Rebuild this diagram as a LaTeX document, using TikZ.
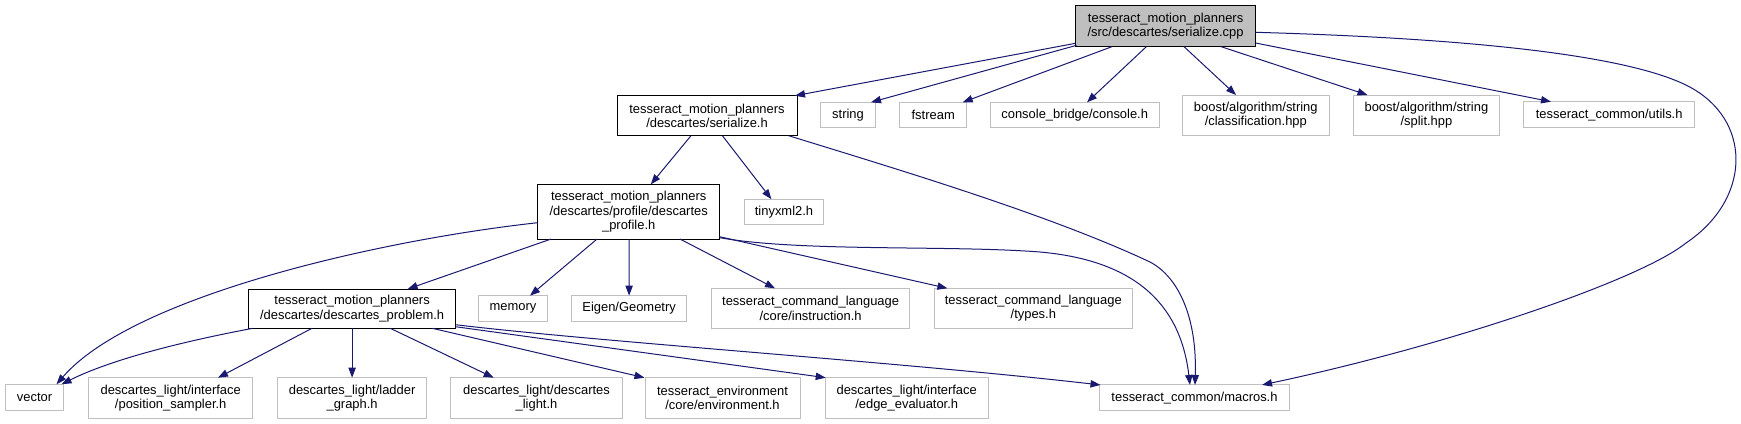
\documentclass[tikz,border=0pt]{standalone}
\usepackage{fontspec}
\setmainfont{Liberation Sans}
\usetikzlibrary{calc,arrows.meta}
\definecolor{edgeblue}{HTML}{191970}
\definecolor{extgray}{HTML}{BFBFBF}
\definecolor{rootgray}{HTML}{BFBFBF}
\tikzset{
  basebox/.style={rectangle, align=center, inner sep=0pt, font=\fontsize{9.7}{10.7}\selectfont, line width=0.7pt},
  localbox/.style={basebox, draw=black},
  extbox/.style={basebox, draw=extgray},
  rootbox/.style={basebox, draw=black, fill=rootgray},
  dep/.style={draw=edgeblue, line width=0.75pt, -{Triangle[length=7.5pt,width=5.5pt]}}
}
\begin{document}
\begin{tikzpicture}[x=0.75pt,y=-0.75pt]
\useasboundingbox (0,0) rectangle (1741,424);
% nodes
\node[rootbox, minimum width=135pt, minimum height=30.5pt] (root) at (1165.6,26.3) {tesseract\_motion\_planners\\/src/descartes/serialize.cpp};
\node[localbox, minimum width=135pt, minimum height=30pt] (ser) at (707,115.7) {tesseract\_motion\_planners\\/descartes/serialize.h};
\node[extbox, minimum width=41.6pt, minimum height=19pt] (str) at (848,115) {string};
\node[extbox, minimum width=49.9pt, minimum height=19pt] (fst) at (933.2,115) {fstream};
\node[extbox, minimum width=126.7pt, minimum height=19pt] (con) at (1074.7,115) {console\_bridge/console.h};
\node[extbox, minimum width=110.3pt, minimum height=30pt] (cls) at (1255.8,115) {boost/algorithm/string\\/classification.hpp};
\node[extbox, minimum width=110pt, minimum height=30pt] (spl) at (1426.4,115) {boost/algorithm/string\\/split.hpp};
\node[extbox, minimum width=128.2pt, minimum height=19.5pt] (utl) at (1609.2,114.7) {tesseract\_common/utils.h};
\node[localbox, minimum width=136.5pt, minimum height=41pt] (prof) at (628.7,211.7) {tesseract\_motion\_planners\\/descartes/profile/descartes\\\_profile.h};
\node[extbox, minimum width=59.3pt, minimum height=18.8pt] (tiny) at (784,211.7) {tinyxml2.h};
\node[localbox, minimum width=155pt, minimum height=29.5pt] (prob) at (352.1,308.7) {tesseract\_motion\_planners\\/descartes/descartes\_problem.h};
\node[extbox, minimum width=51.4pt, minimum height=19pt] (mem) at (513,308.3) {memory};
\node[extbox, minimum width=86pt, minimum height=19pt] (eig) at (629.1,308.3) {Eigen/Geometry};
\node[extbox, minimum width=149pt, minimum height=30pt] (ins) at (810.6,308.3) {tesseract\_command\_language\\/core/instruction.h};
\node[extbox, minimum width=149pt, minimum height=30pt] (typ) at (1033.3,308.3) {tesseract\_command\_language\\/types.h};
\node[extbox, minimum width=43.5pt, minimum height=19.8pt] (vec) at (34.5,397.5) {vector};
\node[extbox, minimum width=122.9pt, minimum height=30.5pt] (pos) at (170.7,398) {descartes\_light/interface\\/position\_sampler.h};
\node[extbox, minimum width=112pt, minimum height=30.5pt] (lad) at (352.1,398) {descartes\_light/ladder\\\_graph.h};
\node[extbox, minimum width=128.5pt, minimum height=30.5pt] (dli) at (536.5,398) {descartes\_light/descartes\\\_light.h};
\node[extbox, minimum width=116.3pt, minimum height=30.5pt] (env) at (722.5,398) {tesseract\_environment\\/core/environment.h};
\node[extbox, minimum width=122.5pt, minimum height=30.5pt] (edg) at (906.7,398) {descartes\_light/interface\\/edge\_evaluator.h};
\node[extbox, minimum width=142.8pt, minimum height=19.3pt] (mac) at (1194.5,397.8) {tesseract\_common/macros.h};
% root edges
\draw[dep] ($(root.center)+(-90,17)$) -- ($(ser.center)+(88,-20)$);
\draw[dep] ($(root.center)+(-89,19)$) -- ($(str.center)+(23,-12.7)$);
\draw[dep] ($(root.center)+(-53.6,20.35)$) -- ($(fst.center)+(29.5,-12.7)$);
\draw[dep] ($(root.center)+(-19.2,20.35)$) -- ($(con.center)+(12.3,-12.7)$);
\draw[dep] ($(root.center)+(18.4,20.35)$) -- ($(cls.center)+(-19.8,-20)$);
\draw[dep] ($(root.center)+(55.4,20.35)$) -- ($(spl.center)+(-58.9,-20)$);
\draw[dep] ($(root.center)+(90,16.7)$) -- ($(utl.center)+(-58.2,-13)$);
\draw[dep] ($(root.center)+(90,6)$) .. controls (1420,37) and (1630,50) .. (1695,90)
  .. controls (1752,125) and (1750,200) .. (1686,243)
  .. controls (1640,280) and (1450,345) .. ($(mac.center)+(67.5,-12.85)$);
% serialize.h edges
\draw[dep] ($(ser.center)+(-16,20)$) -- ($(prof.center)+(22.1,-27.35)$);
\draw[dep] ($(ser.center)+(15.4,20)$) -- ($(tiny.center)+(-12.6,-12.5)$);
\draw[dep] ($(ser.center)+(81.6,20)$) .. controls (900,170) and (1050,215) .. (1150,262)
  .. controls (1180,278) and (1197,320) .. ($(mac.center)+(0.5,-12.85)$);
% profile edges
\draw[dep] ($(prof.center)+(-91,11)$) .. controls (380,240) and (133,296) .. ($(vec.center)+(22,-13.2)$);
\draw[dep] ($(prof.center)+(-77.7,27.35)$) -- ($(prob.center)+(55.5,-19.65)$);
\draw[dep] ($(prof.center)+(-31.7,27.35)$) -- ($(mem.center)+(17,-12.65)$);
\draw[dep] ($(prof.center)+(0.4,27.35)$) -- ($(eig.center)+(0,-12.65)$);
\draw[dep] ($(prof.center)+(51.3,27.35)$) -- ($(ins.center)+(-35.6,-20)$);
\draw[dep] ($(prof.center)+(91,25)$) -- ($(typ.center)+(-85.9,-20)$);
\draw[dep] ($(prof.center)+(91,26)$) .. controls (800,252) and (950,245) .. (1040,252)
  .. controls (1130,260) and (1180,300) .. ($(mac.center)+(-4.5,-12.85)$);
% problem edges
\draw[dep] ($(prob.center)+(-99.5,19.65)$) .. controls (180,342) and (110,360) .. ($(vec.center)+(27,-13.2)$);
\draw[dep] ($(prob.center)+(-40.2,19.65)$) -- ($(pos.center)+(47.3,-20.3)$);
\draw[dep] ($(prob.center)+(0,19.65)$) -- ($(lad.center)+(0,-20.3)$);
\draw[dep] ($(prob.center)+(38.3,19.65)$) -- ($(dli.center)+(-42.8,-20.3)$);
\draw[dep] ($(prob.center)+(80.4,19.65)$) -- ($(env.center)+(-78,-20.3)$);
\draw[dep] ($(prob.center)+(103.3,18)$) -- ($(edg.center)+(-81,-20.3)$);
\draw[dep] ($(prob.center)+(103.3,16)$) .. controls (600,342) and (900,362) .. ($(mac.center)+(-94,-12.85)$);
\end{tikzpicture}
\end{document}
